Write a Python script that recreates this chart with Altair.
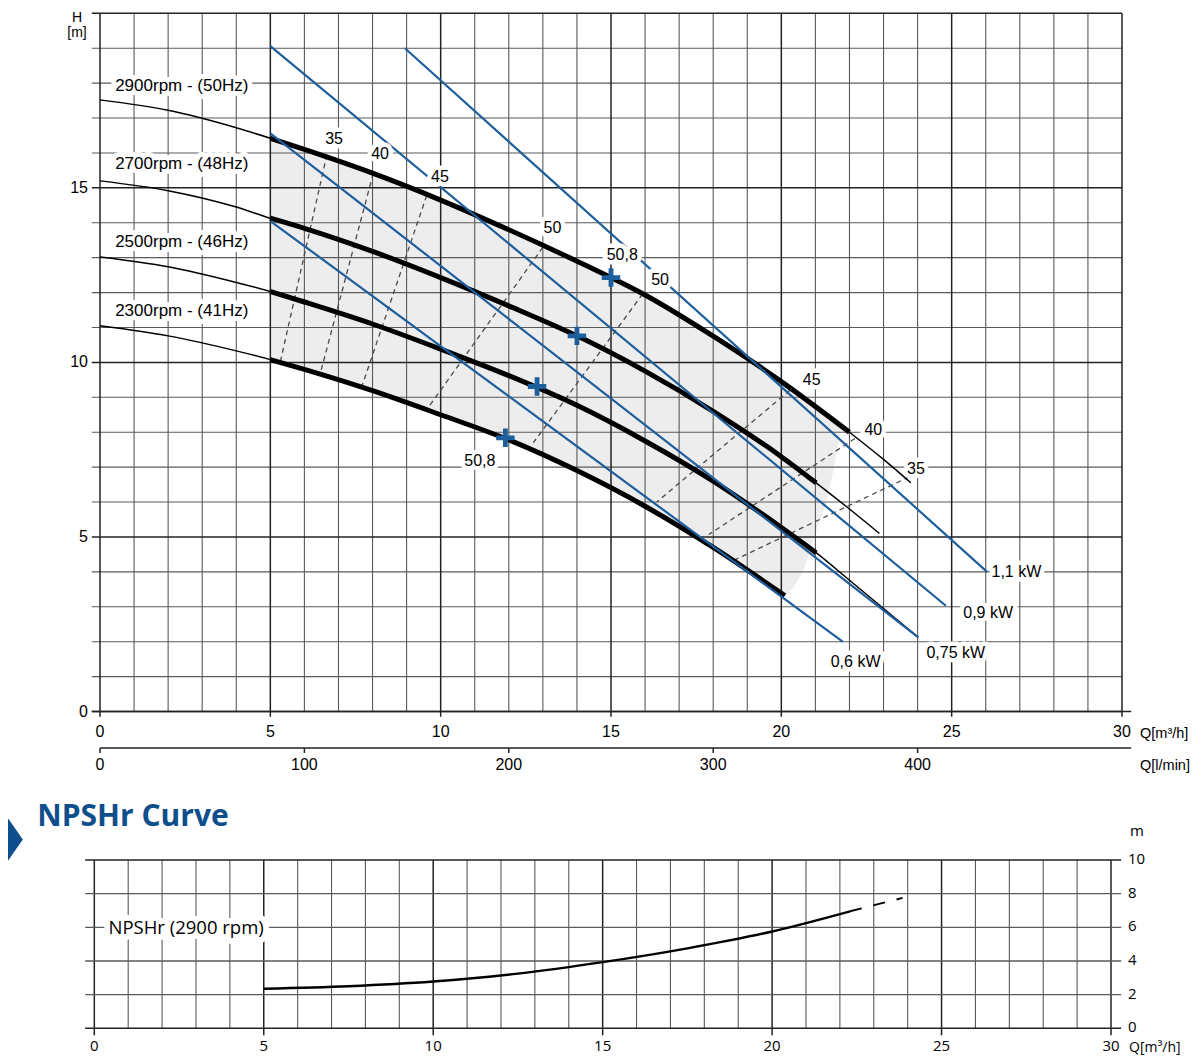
import altair as alt
import pandas as pd

# ---------------- data ----------------
# pump curves, H [m] against Q [m3/h]
q_2900 = [0, 2, 4, 5, 6, 8, 10, 12, 14, 15, 16, 18, 20, 22, 23, 23.8]
h_2900 = [17.52, 17.22, 16.72, 16.42, 16.1, 15.42, 14.65, 13.8, 12.9, 12.43, 11.93, 10.75, 9.45, 8.0, 7.22, 6.55]
q_2700 = [0, 2, 4, 5, 6, 8, 10, 12, 14, 16, 18, 20, 21.02, 22, 22.88]
h_2700 = [15.2, 14.92, 14.45, 14.13, 13.84, 13.18, 12.43, 11.62, 10.76, 9.75, 8.6, 7.3, 6.55, 5.8, 5.1]
q_2500 = [0, 2, 4, 5, 6, 8, 10, 12, 14, 16, 18, 20, 21.02, 22, 23, 24.02]
h_2500 = [13.02, 12.74, 12.29, 12.03, 11.73, 11.1, 10.38, 9.62, 8.77, 7.75, 6.6, 5.27, 4.55, 3.76, 2.95, 2.12]
q_2300 = [0, 2, 4, 5, 6, 8, 10, 12, 14, 16, 18, 20.1]
h_2300 = [11.05, 10.76, 10.33, 10.08, 9.8, 9.19, 8.5, 7.78, 6.9, 5.88, 4.7, 3.32]
speed_names = ["2900rpm - (50Hz)", "2700rpm - (48Hz)", "2500rpm - (46Hz)", "2300rpm - (41Hz)"]
thick_from = [5, 5, 5, 5]
thick_to = [22, 21.02, 21.02, 20.1]
speed_label_q = [2.4, 2.4, 2.4, 2.4]
speed_label_h = [17.91, 15.67, 13.46, 11.47]

# shaded operating field
shade_q = [5, 6, 8, 10, 12, 14, 16, 18, 20, 20.1, 20.36, 20.69, 21.0, 21.33, 21.6, 21.75]
shade_top = [16.42, 16.1, 15.42, 14.65, 13.8, 12.9, 11.93, 10.75, 9.45, 9.38, 9.2, 8.97, 8.73, 8.48, 8.29, 8.18]
shade_bottom = [10.08, 9.8, 9.19, 8.5, 7.78, 6.9, 5.88, 4.7, 3.4, 3.32, 3.57, 4.15, 5.1, 6.05, 7.3, 8.15]

# best efficiency points (50,8 %)
bep_q = [15.0, 14.0, 12.83, 11.9]
bep_h = [12.43, 10.76, 9.31, 7.84]

# iso-efficiency lines (dashed)
eff_q1 = [6.66, 8.02, 9.59, 13.0, 15.93, 20.25, 22.16, 23.75]
eff_h1 = [15.95, 15.41, 14.78, 13.3, 11.96, 9.2, 7.82, 6.72]
eff_q2 = [5.29, 6.46, 7.68, 9.63, 12.72, 16.34, 17.87, 18.65]
eff_h2 = [10.0, 9.66, 9.29, 8.7, 7.7, 6.0, 5.07, 4.35]
eff_text = ["35", "40", "45", "50", "50,8", "50", "45", "40", "35", "50,8"]
eff_text_q = [6.87, 8.22, 9.98, 13.28, 15.33, 16.44, 20.89, 22.7, 23.95, 11.15]
eff_text_h = [16.41, 15.96, 15.32, 13.84, 13.08, 12.36, 9.51, 8.07, 6.94, 7.18]

# constant power lines
kw_text = ["1,1 kW", "0,9 kW", "0,75 kW", "0,6 kW"]
kw_q1 = [8.95, 5.0, 5.0, 5.0]
kw_h1 = [19.0, 19.06, 16.56, 14.05]
kw_q2 = [26.04, 24.83, 24.02, 21.8]
kw_h2 = [4.0, 3.03, 2.12, 2.0]
kw_text_q = [26.9, 26.07, 25.12, 22.18]
kw_text_h = [4.0, 2.82, 1.67, 1.43]

# axes
q_ticks = [0, 5, 10, 15, 20, 25, 30]
h_ticks = [0, 5, 10, 15]
lmin_ticks = [0, 100, 200, 300, 400]
npsh_ticks = [0, 2, 4, 6, 8, 10]

# NPSHr curve
npsh_q = [5, 7.5, 10, 12.5, 15, 17.5, 20, 22.3]
npsh_h = [2.35, 2.5, 2.78, 3.25, 3.93, 4.75, 5.75, 6.95]
npsh_q_ext = [22.3, 23.85]
npsh_h_ext = [6.95, 7.75]
npsh_name = ["NPSHr (2900 rpm)"]
npsh_name_q = [2.71]
npsh_name_h = [5.95]

# ---------------- styling ----------------
BLUE = "#1d5e9c"
TITLE_BLUE = "#0e4e8c"
MINOR = "#5a5a5a"
MAJOR = "#222222"
FONT = "Liberation Sans"
FONT2 = "Open Sans"
PLUS = "M-1,-0.26L-0.26,-0.26L-0.26,-1L0.26,-1L0.26,-0.26L1,-0.26L1,0.26L0.26,0.26L0.26,1L-0.26,1L-0.26,0.26L-1,0.26Z"
TRI = "M0,-1L0.7,0L0,1Z"

XM = alt.Scale(domain=[0, 30], range=[92, 1114], nice=False, zero=False)
YM = alt.Scale(domain=[0, 20], range=[703.5, 5.3], nice=False, zero=False)
XL = alt.Scale(domain=[0, 500], range=[92, 1114], nice=False, zero=False)
XN = alt.Scale(domain=[0, 30], range=[86.3, 1103], nice=False, zero=False)
YN = alt.Scale(domain=[0, 10], range=[1020.3, 852], nice=False, zero=False)


def X(f, s):
    return alt.X(f, type="quantitative", scale=s, axis=None)


def Y(f, s):
    return alt.Y(f, type="quantitative", scale=s, axis=None)


def XD(v, s):
    return alt.XDatum(v, scale=s, axis=None)


def YD(v, s):
    return alt.YDatum(v, scale=s, axis=None)


ONE = pd.DataFrame({"a": [0]})


def labels(df, xs, ys, size, font=FONT, halo=True, halo_w=8, **kw):
    base = alt.Chart(df).encode(x=X("q", xs), y=Y("h", ys), text="label:N")
    out = []
    if halo:
        out.append(base.mark_text(font=font, fontSize=size, color="white", stroke="white",
                                  strokeWidth=halo_w, strokeJoin="round", **kw))
    out.append(base.mark_text(font=font, fontSize=size, color="black", **kw))
    return out


# ---------------- main chart ----------------
grid_q = pd.DataFrame({"q": list(range(31))})
grid_q["major"] = grid_q["q"] % 5 == 0
grid_h = pd.DataFrame({"h": list(range(21))})
grid_h["major"] = grid_h["h"] % 5 == 0

curve_frames = []
for name, qs, hs in zip(speed_names, [q_2900, q_2700, q_2500, q_2300], [h_2900, h_2700, h_2500, h_2300]):
    curve_frames.append(pd.DataFrame({"q": qs, "h": hs, "rpm": name}))
curves = pd.concat(curve_frames, ignore_index=True)
thick_parts = []
for name, a, b in zip(speed_names, thick_from, thick_to):
    c = curves[(curves["rpm"] == name) & (curves["q"] >= a) & (curves["q"] <= b)]
    thick_parts.append(c)
thick = pd.concat(thick_parts, ignore_index=True)

shade = pd.DataFrame({"q": shade_q, "h": shade_top, "h2": shade_bottom})
eff = pd.DataFrame({"q": eff_q1, "h": eff_h1, "q2": eff_q2, "h2": eff_h2})
kw = pd.DataFrame({"q": kw_q1, "h": kw_h1, "q2": kw_q2, "h2": kw_h2})
bep = pd.DataFrame({"q": bep_q, "h": bep_h})

main_layers = [
    alt.Chart(shade).mark_area(color="#ededed", interpolate="monotone").encode(
        x=X("q", XM), y=Y("h", YM), y2="h2"),
    alt.Chart(grid_q[~grid_q["major"]]).mark_rule(color=MINOR, strokeWidth=1.1).encode(
        x=X("q", XM), y=YD(0, YM), y2=alt.datum(20)),
    alt.Chart(grid_h[~grid_h["major"]]).mark_rule(color=MINOR, strokeWidth=1.1).encode(
        y=Y("h", YM), x=XD(-0.24, XM), x2=alt.datum(30)),
    alt.Chart(grid_q[grid_q["major"]]).mark_rule(color=MAJOR, strokeWidth=1.5).encode(
        x=X("q", XM), y=YD(-0.15, YM), y2=alt.datum(20)),
    alt.Chart(grid_h[grid_h["major"]]).mark_rule(color=MAJOR, strokeWidth=1.5).encode(
        y=Y("h", YM), x=XD(-0.24, XM), x2=alt.datum(30)),
    alt.Chart(ONE).mark_rule(color=MAJOR, strokeWidth=1.5).encode(
        y=YD(0, YM), x=XD(-0.24, XM), x2=alt.datum(30.27)),
    alt.Chart(eff).mark_rule(color="#4a4a4a", strokeWidth=1.3, strokeDash=[5, 4]).encode(
        x=X("q", XM), y=Y("h", YM), x2="q2", y2="h2"),
    alt.Chart(curves).mark_line(color="black", strokeWidth=1.5, interpolate="monotone").encode(
        x=X("q", XM), y=Y("h", YM), detail="rpm:N"),
    alt.Chart(thick).mark_line(color="black", strokeWidth=5, interpolate="monotone").encode(
        x=X("q", XM), y=Y("h", YM), detail="rpm:N"),
    alt.Chart(kw).mark_rule(color=BLUE, strokeWidth=2.2).encode(
        x=X("q", XM), y=Y("h", YM), x2="q2", y2="h2"),
    alt.Chart(bep).mark_point(shape=PLUS, size=340, filled=True, color=BLUE, opacity=1, strokeWidth=0).encode(
        x=X("q", XM), y=Y("h", YM)),
]

main_layers += labels(pd.DataFrame({"q": speed_label_q, "h": speed_label_h, "label": speed_names}),
                      XM, YM, 17, halo_w=10)
main_layers += labels(pd.DataFrame({"q": eff_text_q, "h": eff_text_h, "label": eff_text}),
                      XM, YM, 16, halo_w=9)
main_layers += labels(pd.DataFrame({"q": kw_text_q, "h": kw_text_h, "label": kw_text}),
                      XM, YM, 16, halo_w=9)

# axis labels (main)
main_layers.append(alt.Chart(pd.DataFrame({"h": h_ticks, "label": [str(v) for v in h_ticks]})).mark_text(
    font=FONT, fontSize=16, align="right", baseline="middle", dx=-12).encode(
    x=XD(0, XM), y=Y("h", YM), text="label:N"))
main_layers.append(alt.Chart(pd.DataFrame({"q": q_ticks, "label": [str(v) for v in q_ticks]})).mark_text(
    font=FONT, fontSize=16, align="center", baseline="middle", dy=20).encode(
    x=X("q", XM), y=YD(0, YM), text="label:N"))
main_layers.append(alt.Chart(ONE).mark_text(
    font=FONT, fontSize=14.5, align="left", baseline="middle", dx=18, dy=22, text="Q[m³/h]").encode(
    x=XD(30, XM), y=YD(0, YM)))
main_layers.append(alt.Chart(ONE).mark_text(
    font=FONT, fontSize=14, align="center", baseline="middle", dx=-23, dy=5, text="H").encode(
    x=XD(0, XM), y=YD(20, YM)))
main_layers.append(alt.Chart(ONE).mark_text(
    font=FONT, fontSize=14, align="center", baseline="middle", dx=-23, dy=20, text="[m]").encode(
    x=XD(0, XM), y=YD(20, YM)))

main = alt.layer(*main_layers)

# ---------------- second flow axis (l/min) ----------------
lmin_layers = [
    alt.Chart(ONE).mark_rule(color=MAJOR, strokeWidth=1.5).encode(
        x=XD(0, XL), x2=alt.datum(504.5), y=alt.value(740)),
    alt.Chart(pd.DataFrame({"q": lmin_ticks})).mark_rule(color=MAJOR, strokeWidth=1.5).encode(
        x=X("q", XL), y=alt.value(740), y2=alt.value(745)),
    alt.Chart(pd.DataFrame({"q": lmin_ticks, "label": [str(v) for v in lmin_ticks]})).mark_text(
        font=FONT, fontSize=16, align="center", baseline="middle").encode(
        x=X("q", XL), y=alt.value(757), text="label:N"),
    alt.Chart(ONE).mark_text(font=FONT, fontSize=14.5, align="left", baseline="middle", dx=18,
                             text="Q[l/min]").encode(x=XD(500, XL), y=alt.value(758)),
]
lmin = alt.layer(*lmin_layers)

# ---------------- NPSHr panel ----------------
ngrid_q = pd.DataFrame({"q": list(range(31))})
ngrid_q["major"] = ngrid_q["q"] % 5 == 0
ngrid_h = pd.DataFrame({"h": npsh_ticks})
ngrid_h["major"] = ngrid_h["h"].isin([0, 10])

npsh_layers = [
    alt.Chart(ngrid_q[~ngrid_q["major"]]).mark_rule(color=MINOR, strokeWidth=1.1).encode(
        x=X("q", XN), y=YD(0, YN), y2=alt.datum(10)),
    alt.Chart(ngrid_q[ngrid_q["major"]]).mark_rule(color=MAJOR, strokeWidth=1.5).encode(
        x=X("q", XN), y=YD(-0.42, YN), y2=alt.datum(10)),
    alt.Chart(ngrid_h[~ngrid_h["major"]]).mark_rule(color=MINOR, strokeWidth=1.3).encode(
        y=Y("h", YN), x=XD(-0.27, XN), x2=alt.datum(30.3)),
    alt.Chart(ngrid_h[ngrid_h["major"]]).mark_rule(color=MAJOR, strokeWidth=1.6).encode(
        y=Y("h", YN), x=XD(-0.27, XN), x2=alt.datum(30.3)),
    alt.Chart(pd.DataFrame({"q": npsh_q, "h": npsh_h})).mark_line(
        color="black", strokeWidth=2.4, interpolate="monotone").encode(x=X("q", XN), y=Y("h", YN)),
    alt.Chart(pd.DataFrame({"q": npsh_q_ext, "h": npsh_h_ext})).mark_line(
        color="black", strokeWidth=2.0, strokeDash=[12, 12]).encode(x=X("q", XN), y=Y("h", YN)),
]
npsh_layers += labels(pd.DataFrame({"q": npsh_name_q, "h": npsh_name_h, "label": npsh_name}),
                      XN, YN, 18.5, font=FONT2, halo_w=12)
npsh_layers += [
    alt.Chart(pd.DataFrame({"q": q_ticks, "label": [str(v) for v in q_ticks]})).mark_text(
        font=FONT2, fontSize=15, align="center", baseline="middle", dy=18).encode(
        x=X("q", XN), y=YD(0, YN), text="label:N"),
    alt.Chart(pd.DataFrame({"h": npsh_ticks, "label": [str(v) for v in npsh_ticks]})).mark_text(
        font=FONT2, fontSize=15, align="left", baseline="middle", dx=17, dy=-1).encode(
        x=XD(30, XN), y=Y("h", YN), text="label:N"),
    alt.Chart(ONE).mark_text(font=FONT2, fontSize=15, align="left", baseline="middle", dx=19, dy=-29,
                             text="m").encode(x=XD(30, XN), y=YD(10, YN)),
    alt.Chart(ONE).mark_text(font=FONT2, fontSize=14, align="left", baseline="middle", dx=18, dy=19.5,
                             text="Q[m³/h]").encode(x=XD(30, XN), y=YD(0, YN)),
    alt.Chart(ONE).mark_text(font=FONT2, fontSize=30, fontWeight="bold", color=TITLE_BLUE, align="left",
                             baseline="middle", dx=-57, dy=-43, text="NPSHr Curve").encode(
        x=XD(0, XN), y=YD(10, YN)),
    alt.Chart(ONE).mark_point(shape=TRI, size=4225, filled=True, color=TITLE_BLUE, opacity=1,
                              strokeWidth=0).encode(x=XD(-2.78, XN), y=YD(11.22, YN)),
]
npsh = alt.layer(*npsh_layers)

chart = alt.layer(main, lmin, npsh).resolve_scale(x="independent", y="independent").properties(
    width=1184, height=1047, padding=0, autosize="none"
).configure_view(stroke=None)

chart.save("out.html", embed_options={"renderer": "svg", "actions": False})
